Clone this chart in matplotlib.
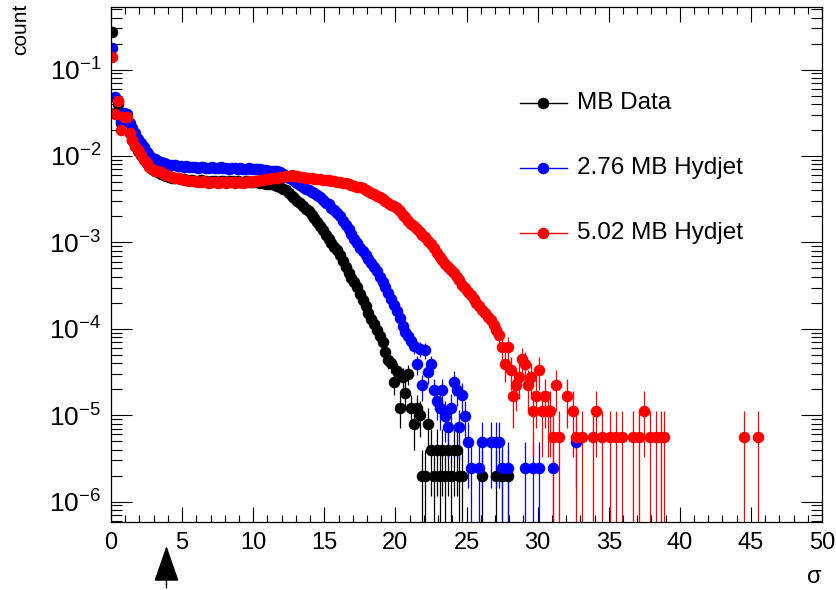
""" sigma distribution: MB data vs Hydjet """

# imports
import numpy as np
import matplotlib
matplotlib.use('Agg')
import matplotlib.pyplot as plt
from matplotlib.ticker import MultipleLocator, LogLocator, NullFormatter

plt.rcParams['font.family'] = ['Liberation Sans', 'DejaVu Sans']
plt.rcParams['mathtext.default'] = 'regular'

# histogram binning (bin centres = bin_width*(k+0.5))
bin_width = 0.2
# weight of one entry in each normalised histogram
black_unit = 2.0e-6
blue_unit = 2.45e-6
red_unit = 5.55e-6

# dense part of each histogram, log10(count), from the first bin on
black_bulk_log = [
    -0.56, -1.50, -1.40, -1.62, -1.56, -1.58, -1.74, -1.82, -1.88, -1.94,
    -1.99, -2.04, -2.08, -2.12, -2.15, -2.17, -2.19, -2.21, -2.22, -2.23,
    -2.24, -2.25, -2.25, -2.26, -2.27, -2.27, -2.28, -2.28, -2.28, -2.29,
    -2.29, -2.28, -2.29, -2.29, -2.30, -2.29, -2.29, -2.30, -2.29, -2.29,
    -2.30, -2.29, -2.29, -2.30, -2.29, -2.30, -2.30, -2.29, -2.30, -2.30,
    -2.30, -2.30, -2.31, -2.31, -2.32, -2.33, -2.33, -2.34, -2.35, -2.36,
    -2.38, -2.40, -2.43, -2.46, -2.49, -2.52, -2.55, -2.58, -2.61, -2.64,
    -2.68, -2.72, -2.77, -2.81, -2.86, -2.91, -2.96, -3.01, -3.05, -3.09,
    -3.15, -3.22, -3.28, -3.35, -3.41, -3.46, -3.52, -3.60, -3.67, -3.74,
    -3.82, -3.89, -3.95, -4.02, -4.08, -4.15]
blue_bulk_log = [
    -0.745, -1.32, -1.36, -1.60, -1.50, -1.51, -1.62, -1.68, -1.74, -1.80,
    -1.855, -1.90, -1.95, -1.99, -2.02, -2.04, -2.06, -2.07, -2.08, -2.09,
    -2.10, -2.11, -2.11, -2.12, -2.12, -2.13, -2.12, -2.13, -2.13, -2.13,
    -2.14, -2.13, -2.13, -2.14, -2.14, -2.13, -2.14, -2.14, -2.13, -2.14,
    -2.14, -2.15, -2.14, -2.14, -2.15, -2.14, -2.15, -2.15, -2.14, -2.15,
    -2.15, -2.15, -2.15, -2.16, -2.16, -2.17, -2.17, -2.18, -2.18, -2.19,
    -2.21, -2.23, -2.25, -2.27, -2.29, -2.315, -2.34, -2.36, -2.38, -2.40,
    -2.42, -2.43, -2.45, -2.48, -2.51, -2.54, -2.56, -2.60, -2.63, -2.66,
    -2.70, -2.75, -2.80, -2.85, -2.90, -2.96, -3.01, -3.06, -3.10, -3.15,
    -3.19, -3.24, -3.28, -3.33, -3.40, -3.46, -3.52, -3.59, -3.66, -3.73,
    -3.80, -3.88, -3.97, -4.04, -4.08, -4.14, -4.20]
red_bulk_log = [
    -0.85, -1.51, -1.36, -1.70, -1.55, -1.55, -1.74, -1.82, -1.88, -1.935,
    -1.99, -2.045, -2.085, -2.125, -2.15, -2.17, -2.18, -2.19, -2.21, -2.22,
    -2.235, -2.245, -2.25, -2.26, -2.27, -2.275, -2.28, -2.29, -2.29, -2.295,
    -2.30, -2.30, -2.29, -2.30, -2.31, -2.30, -2.30, -2.31, -2.30, -2.30,
    -2.31, -2.30, -2.30, -2.31, -2.30, -2.30, -2.31, -2.30, -2.29, -2.30,
    -2.29, -2.29, -2.28, -2.28, -2.27, -2.27, -2.26, -2.25, -2.25, -2.24,
    -2.24, -2.23, -2.23, -2.225, -2.23, -2.235, -2.24, -2.245, -2.25, -2.255,
    -2.26, -2.262, -2.266, -2.27, -2.274, -2.278, -2.281, -2.286, -2.292, -2.298,
    -2.304, -2.31, -2.316, -2.322, -2.332, -2.343, -2.354, -2.365, -2.376, -2.393,
    -2.41, -2.428, -2.445, -2.463, -2.48, -2.50, -2.52, -2.54, -2.565, -2.585,
    -2.607, -2.64, -2.68, -2.71, -2.75, -2.785, -2.815, -2.845, -2.875, -2.91,
    -2.94, -2.98, -3.02, -3.07, -3.12, -3.17, -3.21, -3.25, -3.28, -3.32,
    -3.36, -3.40, -3.44, -3.49, -3.53, -3.57, -3.61, -3.66, -3.70, -3.74,
    -3.78, -3.82, -3.86, -3.90, -3.96, -4.01, -4.07]

# sparse tails: bin centre and number of entries
black_tail_x = [19.3, 19.5, 19.7, 19.9, 20.1, 20.3, 20.5, 20.7, 20.9, 21.1,
                21.3, 21.5, 21.7, 21.9, 22.1, 22.3, 22.5, 22.7, 22.9, 23.1,
                23.3, 23.5, 23.7, 23.9, 24.1, 24.3, 24.5, 24.7, 26.1, 27.1,
                27.5, 27.9]
black_tail_n = [27, 22, 20, 12, 16, 6, 14, 9, 15, 6,
                4, 6, 5, 1, 1, 4, 2, 1, 2, 1,
                2, 1, 2, 1, 2, 2, 1, 1, 1, 1,
                1, 1]
blue_tail_x = [21.5, 21.7, 21.9, 22.1, 22.3, 22.5, 22.7, 22.9, 23.1, 23.3,
               23.5, 23.7, 23.9, 24.1, 24.3, 24.5, 24.7, 24.9, 25.1, 25.3,
               25.9, 26.1, 26.7, 27.1, 27.3, 27.5, 27.9, 29.1, 29.7, 30.1,
               31.1, 32.7]
blue_tail_n = [16, 24, 9, 23, 13, 16, 8, 6, 5, 8,
               4, 3, 5, 10, 8, 3, 7, 4, 2, 1,
               1, 2, 2, 2, 2, 1, 1, 1, 1, 1,
               1, 2]
red_tail_x = [27.5, 27.7, 27.9, 28.1, 28.3, 28.5, 28.7, 28.9, 29.1, 29.3,
              29.5, 29.7, 29.9, 30.1, 30.3, 30.5, 30.7, 30.9, 31.1, 31.3,
              31.5, 32.1, 32.5, 32.7, 33.1, 33.9, 34.1, 34.5, 35.1, 35.5,
              35.9, 36.7, 37.1, 37.5, 37.9, 38.3, 38.7, 38.9, 44.5, 45.5]
red_tail_n = [11, 7, 11, 6, 3, 4, 5, 8, 7, 4,
              5, 2, 3, 6, 2, 3, 2, 2, 1, 4,
              1, 3, 2, 1, 1, 1, 2, 1, 1, 1,
              1, 1, 1, 2, 1, 1, 1, 1, 1, 1]

labels = ['MB Data', '2.76 MB Hydjet', '5.02 MB Hydjet']
colors = ['black', 'blue', 'red']
cut_sigma = 3.9


# build one histogram (points + poisson errors)
def series(bulk_log, tail_x, tail_n, unit):
	x = np.concatenate([bin_width * (np.arange(len(bulk_log)) + 0.5), tail_x])
	y = np.concatenate([10.0 ** np.array(bulk_log), np.array(tail_n) * unit])
	err = np.sqrt(y * unit)
	return x, y, err


fig = plt.figure(figsize=(8.36, 5.90), dpi=100)
ax = fig.add_axes([0.1328, 0.1153, 0.8505, 0.8729])
ax.set_yscale('log')

data = [series(black_bulk_log, black_tail_x, black_tail_n, black_unit),
	series(blue_bulk_log, blue_tail_x, blue_tail_n, blue_unit),
	series(red_bulk_log, red_tail_x, red_tail_n, red_unit)]
for (x, y, err), c in zip(data, colors):
	ax.errorbar(x, y, yerr=err, fmt='o', ms=8.3, color=c, ecolor=c,
		elinewidth=0.9, capsize=0, mew=0)

# axes
ax.set_xlim(0, 50)
ax.set_ylim(5.8e-7, 0.53)
ax.xaxis.set_major_locator(MultipleLocator(5))
ax.xaxis.set_minor_locator(MultipleLocator(1))
ax.yaxis.set_major_locator(LogLocator(base=10, numticks=20))
ax.yaxis.set_minor_locator(LogLocator(base=10, subs=np.arange(2, 10), numticks=20))
ax.yaxis.set_minor_formatter(NullFormatter())
ax.tick_params(which='both', direction='in', top=True, right=True, width=0.8, pad=7)
ax.tick_params(axis='x', which='major', length=10.8, labelsize=17)
ax.tick_params(axis='x', which='minor', length=5.3)
ax.tick_params(axis='y', which='major', length=15, labelsize=19)
ax.tick_params(axis='y', which='minor', length=7.9)
for s in ax.spines.values():
	s.set_linewidth(0.9)

# titles
ax.text(-0.127, 1.007, 'count', transform=ax.transAxes, rotation=90,
	ha='center', va='top', fontsize=15)
ax.text(1.0, -0.107, 'σ', transform=ax.transAxes, ha='right', va='center',
	fontsize=17)

# legend
legend_y = [0.8136, 0.6874, 0.5612]
for lab, c, ly in zip(labels, colors, legend_y):
	ax.plot([0.575, 0.641], [ly, ly], transform=ax.transAxes, color=c, lw=1,
		clip_on=False)
	ax.plot([0.6076], [ly], 'o', ms=8.3, color=c, mew=0, transform=ax.transAxes,
		clip_on=False)
	ax.text(0.655, ly, lab, transform=ax.transAxes, va='center', fontsize=17.5)

# cut arrow below axis
ax.annotate('', xy=(cut_sigma, -0.0466), xytext=(cut_sigma, -0.128),
	xycoords=('data', 'axes fraction'), textcoords=('data', 'axes fraction'),
	annotation_clip=False,
	arrowprops=dict(arrowstyle='-|>,head_length=2.3,head_width=0.8',
		mutation_scale=10, color='black', lw=1, shrinkA=0, shrinkB=0))

fig.savefig('out.png', dpi=100)
